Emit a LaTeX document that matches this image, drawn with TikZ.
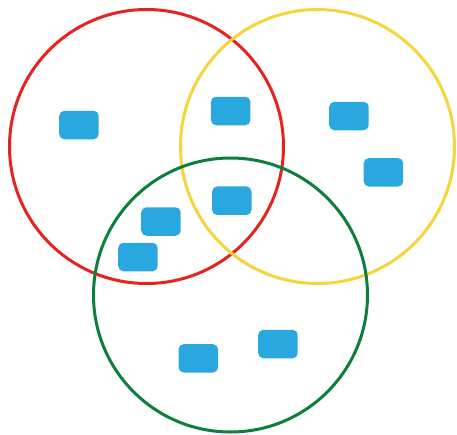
\documentclass[tikz,border=0pt]{standalone}
\usepackage{tikz}

\definecolor{setred}{HTML}{E52421}
\definecolor{setyellow}{HTML}{F6D53C}
\definecolor{setgreen}{HTML}{0C7F3D}
\definecolor{itemblue}{HTML}{29A8E0}

\begin{document}
\begin{tikzpicture}[
  x=0.5pt, y=-0.5pt,
  setring/.style={circle, minimum size=137pt, inner sep=0pt, line width=1.5pt},
  item/.style={rectangle, rounded corners=2.6pt, fill=itemblue, draw=none,
               minimum width=19.75pt, minimum height=14.25pt, inner sep=0pt},
]

% --- fixed bounding box (white background) ---
\fill[white] (0,0) rectangle (457,435);

% ============================ SETS =================================
\node[setring, draw=setred]    (red)    at (146.5,146.5) {};
\node[setring, draw=setyellow] (yellow) at (317.5,146.5) {};
\node[setring, draw=setgreen]  (green)  at (230.5,295)   {};

% ============================ ITEMS ================================
% red only
\node[item] (r1)  at (79,125)    {};
% red and yellow
\node[item] (ry1) at (230.7,111) {};
% yellow only
\node[item] (y1)  at (349,116)   {};
\node[item] (y2)  at (383.5,172.3) {};
% red, yellow and green
\node[item] (ryg) at (231.8,200.7) {};
% red and green
\node[item] (rg1) at (161,221.5) {};
\node[item] (rg2) at (138,257)   {};
% green only
\node[item] (g1)  at (198.3,358.3) {};
\node[item] (g2)  at (278,344)   {};

\end{tikzpicture}
\end{document}
